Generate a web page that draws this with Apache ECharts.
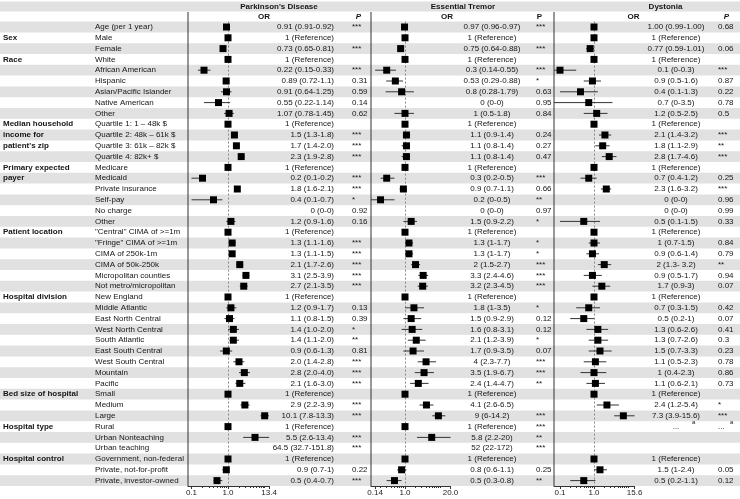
<!DOCTYPE html>
<html>
<head>
<meta charset="utf-8">
<title>Forest plot</title>
<script src="https://cdn.jsdelivr.net/npm/echarts@6/dist/echarts.min.js"></script>
<style>
  html,body{margin:0;padding:0;background:#fff}
  #chart{width:740px;height:499px}
</style>
</head>
<body>
<div id="chart"></div>
<script>
// row labels (one per row, top to bottom)
const rowLabels = [
  'Age (per 1 year)', 'Male', 'Female', 'White', 'African American', 'Hispanic',
  'Asian/Pacific Islander', 'Native American', 'Other',
  'Quartile 1: 1 \u2013 48k $', 'Quartile 2: 48k \u2013 61k $', 'Quartile 3: 61k \u2013 82k $', 'Quartile 4: 82k+ $',
  'Medicare', 'Medicaid', 'Private insurance', 'Self-pay', 'No charge', 'Other',
  '"Central" CIMA of >=1m', '"Fringe" CIMA of >=1m', 'CIMA of 250k-1m', 'CIMA of 50k-250k',
  'Micropolitan counties', 'Not metro/micropolitan',
  'New England', 'Middle Atlantic', 'East North Central', 'West North Central', 'South Atlantic',
  'East South Central', 'West South Central', 'Mountain', 'Pacific',
  'Small', 'Medium', 'Large', 'Rural', 'Urban Nonteaching', 'Urban teaching',
  'Government, non-federal', 'Private, not-for-profit', 'Private, investor-owned'
]
// group headings: [row, text]
const groupLabels = [
  [1, 'Sex'], [3, 'Race'], [9, 'Median household'], [10, 'income for'], [11, "patient's zip"],
  [13, 'Primary expected'], [14, 'payer'], [19, 'Patient location'], [25, 'Hospital division'],
  [34, 'Bed size of hospital'], [37, 'Hospital type'], [40, 'Hospital control']
]

const REF = '1 (Reference)'
const pdOR = [
  '0.91 (0.91-0.92)', REF, '0.73 (0.65-0.81)', REF, '0.22 (0.15-0.33)', '0.89 (0.72-1.1)',
  '0.91 (0.64-1.25)', '0.55 (0.22-1.14)', '1.07 (0.78-1.45)',
  REF, '1.5 (1.3-1.8)', '1.7 (1.4-2.0)', '2.3 (1.9-2.8)',
  REF, '0.2 (0.1-0.2)', '1.8 (1.6-2.1)', '0.4 (0.1-0.7)', '0 (0-0)', '1.2 (0.9-1.6)',
  REF, '1.3 (1.1-1.6)', '1.3 (1.1-1.5)', '2.1 (1.7-2.6)', '3.1 (2.5-3.9)', '2.7 (2.1-3.5)',
  REF, '1.2 (0.9-1.7)', '1.1 (0.8-1.5)', '1.4 (1.0-2.0)', '1.4 (1.1-2.0)', '0.9 (0.6-1.3)',
  '2.0 (1.4-2.8)', '2.8 (2.0-4.0)', '2.1 (1.6-3.0)',
  REF, '2.9 (2.2-3.9)', '10.1 (7.8-13.3)', REF, '5.5 (2.6-13.4)', '64.5 (32.7-151.8)',
  REF, '0.9 (0.7-1)', '0.5 (0.4-0.7)'
]
const pdP = [
  '***', '', '***', '', '***', '0.31', '0.59', '0.14', '0.62',
  '', '***', '***', '***',
  '', '***', '***', '*', '0.92', '0.16',
  '', '***', '***', '***', '***', '***',
  '', '0.13', '0.39', '*', '**', '0.81', '***', '***', '***',
  '', '***', '***', '', '***', '***',
  '', '0.22', '***'
]
const etOR = [
  '0.97 (0.96-0.97)', REF, '0.75 (0.64-0.88)', REF, '0.3 (0.14-0.55)', '0.53 (0.29-0.88)',
  '0.8 (0.28-1.79)', '0 (0-0)', '1 (0.5-1.8)',
  REF, '1.1 (0.9-1.4)', '1.1 (0.8-1.4)', '1.1 (0.8-1.4)',
  REF, '0.3 (0.2-0.5)', '0.9 (0.7-1.1)', '0.2 (0-0.5)', '0 (0-0)', '1.5 (0.9-2.2)',
  REF, '1.3 (1-1.7)', '1.3 (1-1.7)', '2 (1.5-2.7)', '3.3 (2.4-4.6)', '3.2 (2.3-4.5)',
  REF, '1.8 (1-3.5)', '1.5 (0.9-2.9)', '1.6 (0.8-3.1)', '2.1 (1.2-3.9)', '1.7 (0.9-3.5)',
  '4 (2.3-7.7)', '3.5 (1.9-6.7)', '2.4 (1.4-4.7)',
  REF, '4.1 (2.6-6.5)', '9 (6-14.2)', REF, '5.8 (2.2-20)', '52 (22-172)',
  REF, '0.8 (0.6-1.1)', '0.5 (0.3-0.8)'
]
const etP = [
  '***', '', '***', '', '***', '*', '0.63', '0.95', '0.84',
  '', '0.24', '0.27', '0.47',
  '', '***', '0.66', '**', '0.97', '*',
  '', '*', '*', '***', '***', '***',
  '', '*', '0.12', '0.12', '*', '0.07', '***', '***', '**',
  '', '', '***', '***', '**', '***',
  '', '0.25', '**'
]
const dyOR = [
  '1.00 (0.99-1.00)', REF, '0.77 (0.59-1.01)', REF, '0.1 (0-0.3)', '0.9 (0.5-1.6)',
  '0.4 (0.1-1.3)', '0.7 (0-3.5)', '1.2 (0.5-2.5)',
  REF, '2.1 (1.4-3.2)', '1.8 (1.1-2.9)', '2.8 (1.7-4.6)',
  REF, '0.7 (0.4-1.2)', '2.3 (1.6-3.2)', '0 (0-0)', '0 (0-0)', '0.5 (0.1-1.5)',
  REF, '1 (0.7-1.5)', '0.9 (0.6-1.4)', '2 (1.3- 3.2)', '0.9 (0.5-1.7)', '1.7 (0.9-3)',
  REF, '0.7 (0.3-1.5)', '0.5 (0.2-1)', '1.3 (0.6-2.6)', '1.3 (0.7-2.6)', '1.5 (0.7-3.3)',
  '1.1 (0.5-2.3)', '1 (0.4-2.3)', '1.1 (0.6-2.1)',
  REF, '2.4 (1.2-5.4)', '7.3 (3.9-15.6)', '...^a', '', '',
  REF, '1.5 (1-2.4)', '0.5 (0.2-1.1)'
]
const dyP = [
  '0.68', '', '0.06', '', '***', '0.87', '0.22', '0.78', '0.5',
  '', '***', '**', '***',
  '', '0.25', '***', '0.96', '0.99', '0.33',
  '', '0.84', '0.79', '**', '0.94', '0.07',
  '', '0.42', '0.07', '0.41', '0.3', '0.23', '0.78', '0.86', '0.73',
  '', '*', '***', '...^a', '', '',
  '', '0.05', '0.12'
]

// axis ticks
const pdTicks = [0.1, 1, 13.4]
const pdTickLabels = ['0.1', '1.0', '13.4']
const etTicks = [0.14, 1, 20]
const etTickLabels = ['0.14', '1.0', '20.0']
const dyTicks = [0.1, 1, 15.6]
const dyTickLabels = ['0.1', '1.0', '15.6']
const minorTicks = [0.2, 0.3, 0.4, 0.5, 0.6, 0.7, 0.8, 0.9, 2, 3, 4, 5, 6, 7, 8, 9, 10]

const FONT = '"Liberation Sans", Arial, sans-serif'
const STRIPE = '#e1e1e1'
const INK = '#151515'
const TOP = 21.6
const HEIGHT = 464.4

// "0.91 (0.91-0.92)" -> {or, lo, hi}
function parseOR(s) {
  if (s === REF) return { or: 1, lo: 1, hi: 1 }
  const m = s.match(/^([\d.]+)\s*\(([\d.]+)\s*-\s*([\d.]+)\)/)
  return m ? { or: +m[1], lo: +m[2], hi: +m[3] } : null
}

const panels = [
  { name: "Parkinson's Disease", or: pdOR, p: pdP, ticks: pdTicks, tickLabels: pdTickLabels,
    left: 188, one: 228, k: 36.5, orX: 146, orAlign: 'right', pX: 164,
    titleX: 91, orHeadX: 76, pHeadX: 170.5, italicP: true },
  { name: 'Essential Tremor', or: etOR, p: etP, ticks: etTicks, tickLabels: etTickLabels,
    left: 371, one: 405, k: 35, orX: 121, orAlign: 'center', pX: 165,
    titleX: 92, orHeadX: 76, pHeadX: 168.5, italicP: false },
  { name: 'Dystonia', or: dyOR, p: dyP, ticks: dyTicks, tickLabels: dyTickLabels,
    left: 554, one: 594, k: 34, orX: 122, orAlign: 'center', pX: 164,
    titleX: 111.5, orHeadX: 79.5, pHeadX: 172.5, italicP: true }
]
panels.forEach(p => {
  p.min = -(p.one - p.left) / p.k
  p.max = Math.log10(p.ticks[p.ticks.length - 1])
  p.width = (p.max - p.min) * p.k
})

function textEl(x, y, text, align, font) {
  return {
    type: 'text', x: x, y: y,
    style: { text: text, fill: INK, font: font || ('8px ' + FONT), align: align, verticalAlign: 'middle' }
  }
}

// text that may carry a superscript note, written as "main^note"
function noteText(x, y, s, align) {
  const parts = s.split('^')
  const out = [textEl(x, y, parts[0], align)]
  if (parts[1]) out.push(textEl(align === 'center' ? x + 16 : x + 12, y - 4, parts[1], 'left', '6px ' + FONT))
  return out
}

const groupMap = {}
groupLabels.forEach(g => { groupMap[g[0]] = g[1] })

function renderRows(params, api) {
  const i = api.value(1)
  const y = api.coord([0, i])[1]
  const h = api.size([0, 1])[1]
  const children = []
  if (i % 2 === 0) {
    children.push({ type: 'rect', shape: { x: 0, y: y - h / 2, width: api.getWidth(), height: h }, style: { fill: STRIPE } })
  }
  children.push(textEl(95, y, rowLabels[i], 'left'))
  if (groupMap[i]) children.push(textEl(3, y, groupMap[i], 'left', 'bold 8px ' + FONT))
  return { type: 'group', children: children }
}

function renderPanel(p) {
  return function (params, api) {
    const i = api.value(1)
    const cs = params.coordSys
    const y = api.coord([0, i])[1]
    const children = []
    const v = parseOR(p.or[i])
    const lmin = Math.pow(10, p.min)
    const lmax = Math.pow(10, p.max)
    if (v && v.or > 0 && v.or <= lmax) {
      const lo = Math.max(v.lo, lmin)
      const hi = Math.min(v.hi, lmax)
      if (hi > lo) {
        const a = api.coord([Math.log10(lo), i])[0]
        const b = api.coord([Math.log10(hi), i])[0]
        children.push({ type: 'line', shape: { x1: a, y1: y, x2: b, y2: y }, style: { stroke: '#333', lineWidth: 1 } })
      }
      const c = api.coord([Math.log10(v.or), i])[0]
      children.push({ type: 'rect', shape: { x: c - 3.5, y: y - 3.5, width: 7, height: 7 }, style: { fill: '#000' } })
    }
    noteText(cs.x + p.orX, y, p.or[i], p.orAlign).forEach(e => children.push(e))
    noteText(cs.x + p.pX, y, p.p[i], 'left').forEach(e => children.push(e))
    return { type: 'group', children: children }
  }
}

const rowData = rowLabels.map((_, i) => [0, i])

const grid = [{ left: 0, top: TOP, width: 740, height: HEIGHT }]
const xAxis = [{ gridIndex: 0, type: 'value', min: 0, max: 1, show: false }]
const yAxis = [{ gridIndex: 0, type: 'category', data: rowLabels, inverse: true, show: false }]
const series = [{
  type: 'custom', name: 'rows', xAxisIndex: 0, yAxisIndex: 0, z: 1, clip: false, silent: true,
  renderItem: renderRows, data: rowData
}]
const graphic = [
  { type: 'rect', shape: { x: 0, y: 1.5, width: 740, height: 10 }, style: { fill: STRIPE }, z: 0 }
]

panels.forEach((p, n) => {
  const g = n + 1
  grid.push({ left: p.left, top: TOP, width: p.width, height: HEIGHT })
  const logTicks = p.ticks.map(t => Math.log10(t))
  const mainIdx = xAxis.length
  xAxis.push({
    gridIndex: g, type: 'value', min: p.min, max: p.max, position: 'bottom', z: 10,
    axisLine: { show: true, onZero: false, lineStyle: { color: '#333', width: 1 } },
    axisTick: { show: true, customValues: logTicks, length: 3, lineStyle: { color: '#333' } },
    axisLabel: {
      show: true, customValues: logTicks, fontSize: 8, fontFamily: FONT, color: '#222', margin: 3,
      formatter: val => {
        let best = 0
        logTicks.forEach((t, j) => { if (Math.abs(t - val) < Math.abs(logTicks[best] - val)) best = j })
        return p.tickLabels[best]
      }
    },
    splitLine: { show: false }
  })
  // log minor ticks
  xAxis.push({
    gridIndex: g, type: 'value', min: p.min, max: p.max, position: 'bottom', offset: 0, z: 10,
    axisLine: { show: false },
    axisTick: { show: true, customValues: minorTicks.filter(t => Math.log10(t) < p.max).map(t => Math.log10(t)), length: 2, lineStyle: { color: '#333' } },
    axisLabel: { show: false },
    splitLine: { show: false }
  })
  yAxis.push({ gridIndex: g, type: 'category', data: rowLabels, inverse: true, show: false })

  series.push({
    type: 'custom', name: p.name + ' ref', xAxisIndex: mainIdx, yAxisIndex: g, z: 2, silent: true,
    data: [],
    renderItem: () => null,
    markLine: {
      silent: true, symbol: 'none', z: 3, animation: false,
      label: { show: false },
      lineStyle: { type: [2, 2], color: '#8a8a8a', width: 1 },
      data: [{ xAxis: 0 }]
    }
  })
  series.push({
    type: 'custom', name: p.name, xAxisIndex: mainIdx, yAxisIndex: g, z: 6, clip: false, silent: true,
    renderItem: renderPanel(p), data: rowData
  })

  // panel separator + headings
  graphic.push({ type: 'line', shape: { x1: p.left, y1: 12, x2: p.left, y2: TOP + HEIGHT }, style: { stroke: '#333', lineWidth: 1 }, z: 10 })
  graphic.push(Object.assign(textEl(p.left + p.titleX, 6.5, p.name, 'center', 'bold 8px ' + FONT), { z: 10 }))
  graphic.push(Object.assign(textEl(p.left + p.orHeadX, 17, 'OR', 'center', 'bold 8px ' + FONT), { z: 10 }))
  graphic.push(Object.assign(textEl(p.left + p.pHeadX, 17, 'P', 'center', (p.italicP ? 'italic ' : '') + 'bold 8px ' + FONT), { z: 10 }))
})

const chart = echarts.init(document.getElementById('chart'), null, { renderer: 'canvas' })
chart.setOption({
  animation: false,
  backgroundColor: '#fff',
  grid: grid,
  xAxis: xAxis,
  yAxis: yAxis,
  graphic: graphic,
  series: series
})
</script>
</body>
</html>
